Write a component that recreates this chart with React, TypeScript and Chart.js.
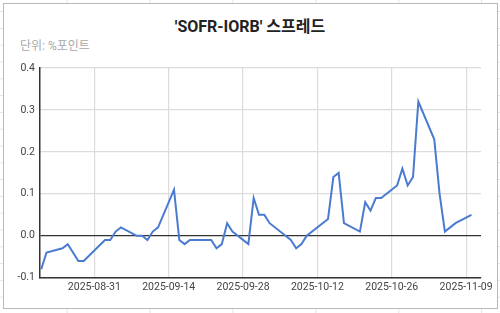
import React, { useEffect, useRef } from "react";
import { Chart, registerables } from "chart.js";

Chart.register(...registerables);

const dates: string[] = [
  "2025-08-21", "2025-08-22", "2025-08-25", "2025-08-26", "2025-08-28", "2025-08-29",
  "2025-09-02", "2025-09-03", "2025-09-04", "2025-09-05", "2025-09-08", "2025-09-09",
  "2025-09-10", "2025-09-11", "2025-09-12", "2025-09-15", "2025-09-16", "2025-09-17",
  "2025-09-18", "2025-09-22", "2025-09-23", "2025-09-24", "2025-09-25", "2025-09-26",
  "2025-09-29", "2025-09-30", "2025-10-01", "2025-10-02", "2025-10-03", "2025-10-06",
  "2025-10-07", "2025-10-08", "2025-10-09", "2025-10-10", "2025-10-14", "2025-10-15",
  "2025-10-16", "2025-10-17", "2025-10-20", "2025-10-21", "2025-10-22", "2025-10-23",
  "2025-10-24", "2025-10-27", "2025-10-28", "2025-10-29", "2025-10-30", "2025-10-31",
  "2025-11-03", "2025-11-04", "2025-11-05", "2025-11-07", "2025-11-10",
];

const spread: number[] = [
  -0.08, -0.04, -0.03, -0.02, -0.06, -0.06,
  -0.01, -0.01, 0.01, 0.02, 0.0, 0.0,
  -0.01, 0.01, 0.02, 0.11, -0.01, -0.02,
  -0.01, -0.01, -0.03, -0.02, 0.03, 0.01,
  -0.02, 0.09, 0.05, 0.05, 0.03, 0.0,
  -0.01, -0.03, -0.02, 0.0, 0.04, 0.14,
  0.15, 0.03, 0.01, 0.08, 0.06, 0.09,
  0.09, 0.12, 0.16, 0.12, 0.14, 0.32,
  0.23, 0.1, 0.01, 0.03, 0.05,
];

const xTickLabels: string[] = [
  "2025-08-31", "2025-09-14", "2025-09-28", "2025-10-12", "2025-10-26", "2025-11-09",
];

const yTicks: number[] = [-0.1, 0.0, 0.1, 0.2, 0.3, 0.4];

const title = "'SOFR-IORB' 스프레드";
const subtitle = "단위: %포인트";

const BASE = Date.UTC(2025, 7, 21);
const toDay = (s: string) => {
  const [y, m, d] = s.split("-").map(Number);
  return (Date.UTC(y, m - 1, d) - BASE) / 86400000;
};
const fromDay = (n: number) => {
  const dt = new Date(BASE + Math.round(n) * 86400000);
  return dt.toISOString().slice(0, 10);
};

const FONT = "Roboto, 'Noto Sans CJK KR', sans-serif";

export default function App() {
  const ref = useRef<HTMLCanvasElement | null>(null);

  useEffect(() => {
    if (!ref.current) return;
    const points = dates.map((d, i) => ({ x: toDay(d), y: spread[i] }));
    const chart = new Chart(ref.current, {
      type: "line",
      data: {
        datasets: [
          {
            data: points,
            borderColor: "#4a7bd0",
            borderWidth: 2,
            pointRadius: 0,
            pointHoverRadius: 0,
            tension: 0,
            fill: false,
          },
        ],
      },
      options: {
        responsive: false,
        animation: false,
        layout: { padding: { left: 0, right: 19, top: 68, bottom: 0 } },
        plugins: {
          legend: { display: false },
          tooltip: { enabled: false },
          title: { display: false },
        },
        scales: {
          x: {
            type: "linear",
            min: -0.23,
            max: 82.8,
            afterBuildTicks: (s: any) => {
              s.ticks = xTickLabels.map((t) => ({ value: toDay(t) }));
            },
            afterFit: (s: any) => {
              s.height = 35.3;
              s.paddingLeft = 0;
              s.paddingRight = 0;
            },
            ticks: {
              autoSkip: false,
              maxRotation: 0,
              padding: 3,
              color: "#444",
              font: { family: FONT, size: 10.5 },
              callback: (v: any) => fromDay(Number(v)),
            },
            grid: { color: "#dcdcdc", lineWidth: 1.2, drawTicks: false },
            border: { display: true, color: "#333", width: 1.5 },
          },
          y: {
            min: -0.1,
            max: 0.4,
            afterBuildTicks: (s: any) => {
              s.ticks = yTicks.map((v) => ({ value: v }));
            },
            afterFit: (s: any) => {
              s.width = 40;
            },
            ticks: {
              padding: 5,
              color: "#444",
              font: { family: FONT, size: 10.5 },
              callback: (v: any) => Number(v).toFixed(1),
            },
            grid: {
              drawTicks: false,
              color: (c: any) => (c.tick && Math.abs(c.tick.value) < 1e-9 ? "#333" : "#dcdcdc"),
              lineWidth: (c: any) => (c.tick && Math.abs(c.tick.value) < 1e-9 ? 1.2 : 1.2),
            },
            border: { display: true, color: "#333", width: 1.5 },
          },
        },
      },
    });
    return () => chart.destroy();
  }, []);

  return (
    <div
      style={{
        position: "fixed",
        left: 0,
        top: 0,
        width: 500,
        height: 313,
        overflow: "hidden",
        backgroundColor: "#fff",
        backgroundImage:
          "linear-gradient(to right, #e3e3e3 1px, transparent 1px), linear-gradient(to bottom, #e3e3e3 1px, transparent 1px)",
        backgroundSize: "82.9px 16.8px",
        backgroundPosition: "66.7px 11.1px",
      }}
    >
      <div
        style={{
          position: "absolute",
          left: 3,
          top: 3,
          width: 493,
          height: 304,
          background: "#fff",
          border: "1px solid #b8b8b8",
        }}
      />
      <div
        style={{
          position: "absolute",
          left: 0,
          top: 16,
          width: 500,
          textAlign: "center",
          fontFamily: FONT,
          fontWeight: 700,
          fontSize: 16,
          lineHeight: "22px",
          color: "#222",
        }}
      >
        {title}
      </div>
      <div
        style={{
          position: "absolute",
          left: 20,
          top: 38,
          fontFamily: FONT,
          fontSize: 12,
          lineHeight: "16px",
          color: "#a8a8a8",
        }}
      >
        {subtitle}
      </div>
      <canvas
        ref={ref}
        width={500}
        height={313}
        style={{ position: "absolute", left: 0, top: 0, width: 500, height: 313 }}
      />
    </div>
  );
}
